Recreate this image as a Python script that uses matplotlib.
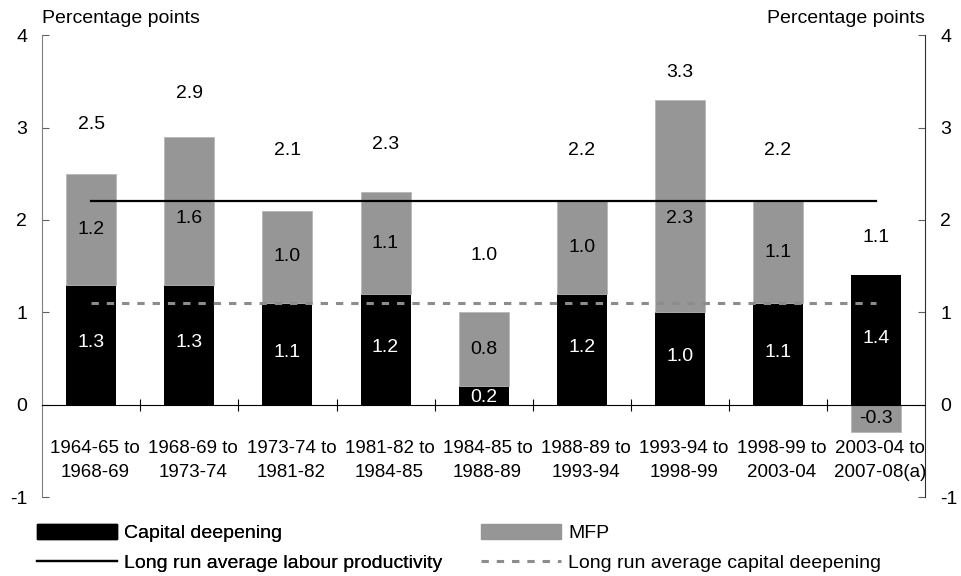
import matplotlib.pyplot as plt
from matplotlib.patches import Patch
from matplotlib.lines import Line2D

plt.rcParams['font.family'] = ['Liberation Sans', 'DejaVu Sans']
plt.rcParams['axes.unicode_minus'] = False

periods = ['1964-65 to\n1968-69', '1968-69 to\n1973-74', '1973-74 to\n1981-82',
           '1981-82 to\n1984-85', '1984-85 to\n1988-89', '1988-89 to\n1993-94',
           '1993-94 to\n1998-99', '1998-99 to\n2003-04', '2003-04 to\n2007-08(a)']
capital = [1.3, 1.3, 1.1, 1.2, 0.2, 1.2, 1.0, 1.1, 1.4]
mfp = [1.2, 1.6, 1.0, 1.1, 0.8, 1.0, 2.3, 1.1, -0.3]
totals = [2.5, 2.9, 2.1, 2.3, 1.0, 2.2, 3.3, 2.2, 1.1]
avg_labour = 2.2
avg_capital = 1.1

# where the total labels sit (as placed in the original chart)
total_label_y = [3.03, 3.37, 2.75, 2.82, 1.61, 2.75, 3.60, 2.75, 1.81]

black = '#000000'
grey = '#969696'
dash_grey = '#8c8c8c'
dash = (0, (2.4, 2.6))
fs = 14

fig = plt.figure(figsize=(9.61, 5.76), dpi=100)
ax = fig.add_axes([0.044, 0.137, 0.9185, 0.802])

x = list(range(len(periods)))
mfp_bottom = [c if m >= 0 else 0 for c, m in zip(capital, mfp)]
ax.bar(x, capital, width=0.51, color=black, zorder=2)
ax.bar(x, mfp, width=0.51, bottom=mfp_bottom, color=grey,
       edgecolor='#b8b8b8', linewidth=0.6, zorder=2)

ax.plot([x[0], x[-1]], [avg_labour, avg_labour], color=black, lw=1.6, zorder=3)
ax.plot([x[0], x[-1]], [avg_capital, avg_capital], color=dash_grey, lw=2.2,
        ls=dash, zorder=3)

for i in x:
    c, m = capital[i], mfp[i]
    ax.text(i, c / 2 + (0.02 if c > 0.5 else -0.02), f'{c:.1f}', color='white',
            ha='center', va='center', fontsize=fs, zorder=4)
    mid = mfp_bottom[i] + m / 2
    if abs(mid - avg_labour) < 0.2:
        mid = avg_labour - 0.19
    ax.text(i, mid, f'{m:.1f}', color=black,
            ha='center', va='center', fontsize=fs, zorder=4)
    ax.text(i, total_label_y[i], f'{totals[i]:.1f}', color=black,
            ha='center', va='center', fontsize=fs)
    ax.text(i + 0.04, -0.6, periods[i], ha='center', va='center', fontsize=13.5,
            linespacing=1.55)

ax.set_xlim(-0.5, 8.5)
ax.set_ylim(-1, 4)
ax.set_yticks([-1, 0, 1, 2, 3, 4])
ax.set_xticks([i + 0.5 for i in x[:-1]])
ax.set_xticklabels([])

ax.spines['top'].set_visible(False)
ax.spines['bottom'].set_position(('data', 0))
ax.spines['bottom'].set_color(black)
ax.spines['left'].set_color('#808080')
ax.spines['right'].set_color('#303030')
ax.tick_params(axis='x', direction='inout', length=8, width=0.8)
ax.tick_params(axis='y', direction='in', length=5, width=0.8, labelsize=fs,
               left=True, right=True, labelleft=True, labelright=True, pad=11,
               colors='#606060', labelcolor=black)

fig.text(0.044, 0.968, 'Percentage points', fontsize=fs, va='center')
fig.text(0.962, 0.968, 'Percentage points', fontsize=fs, va='center', ha='right')

leg_kw = dict(frameon=False, fontsize=fs, handlelength=4.1, handleheight=0.85,
              handletextpad=0.36, labelspacing=0.6, borderpad=0,
              borderaxespad=0, loc='upper left')
leg1 = fig.legend(handles=[Patch(color=black, label='Capital deepening'),
                           Line2D([], [], color=black, lw=1.6,
                                  label='Long run average labour productivity')],
                  bbox_to_anchor=(0.039, 0.091), **leg_kw)
fig.add_artist(leg1)
fig.legend(handles=[Patch(color=grey, label='MFP'),
                    Line2D([], [], color=dash_grey, lw=2.2, ls=dash,
                           label='Long run average capital deepening')],
           bbox_to_anchor=(0.501, 0.091), **leg_kw)

fig.savefig('out.png', dpi=100)
